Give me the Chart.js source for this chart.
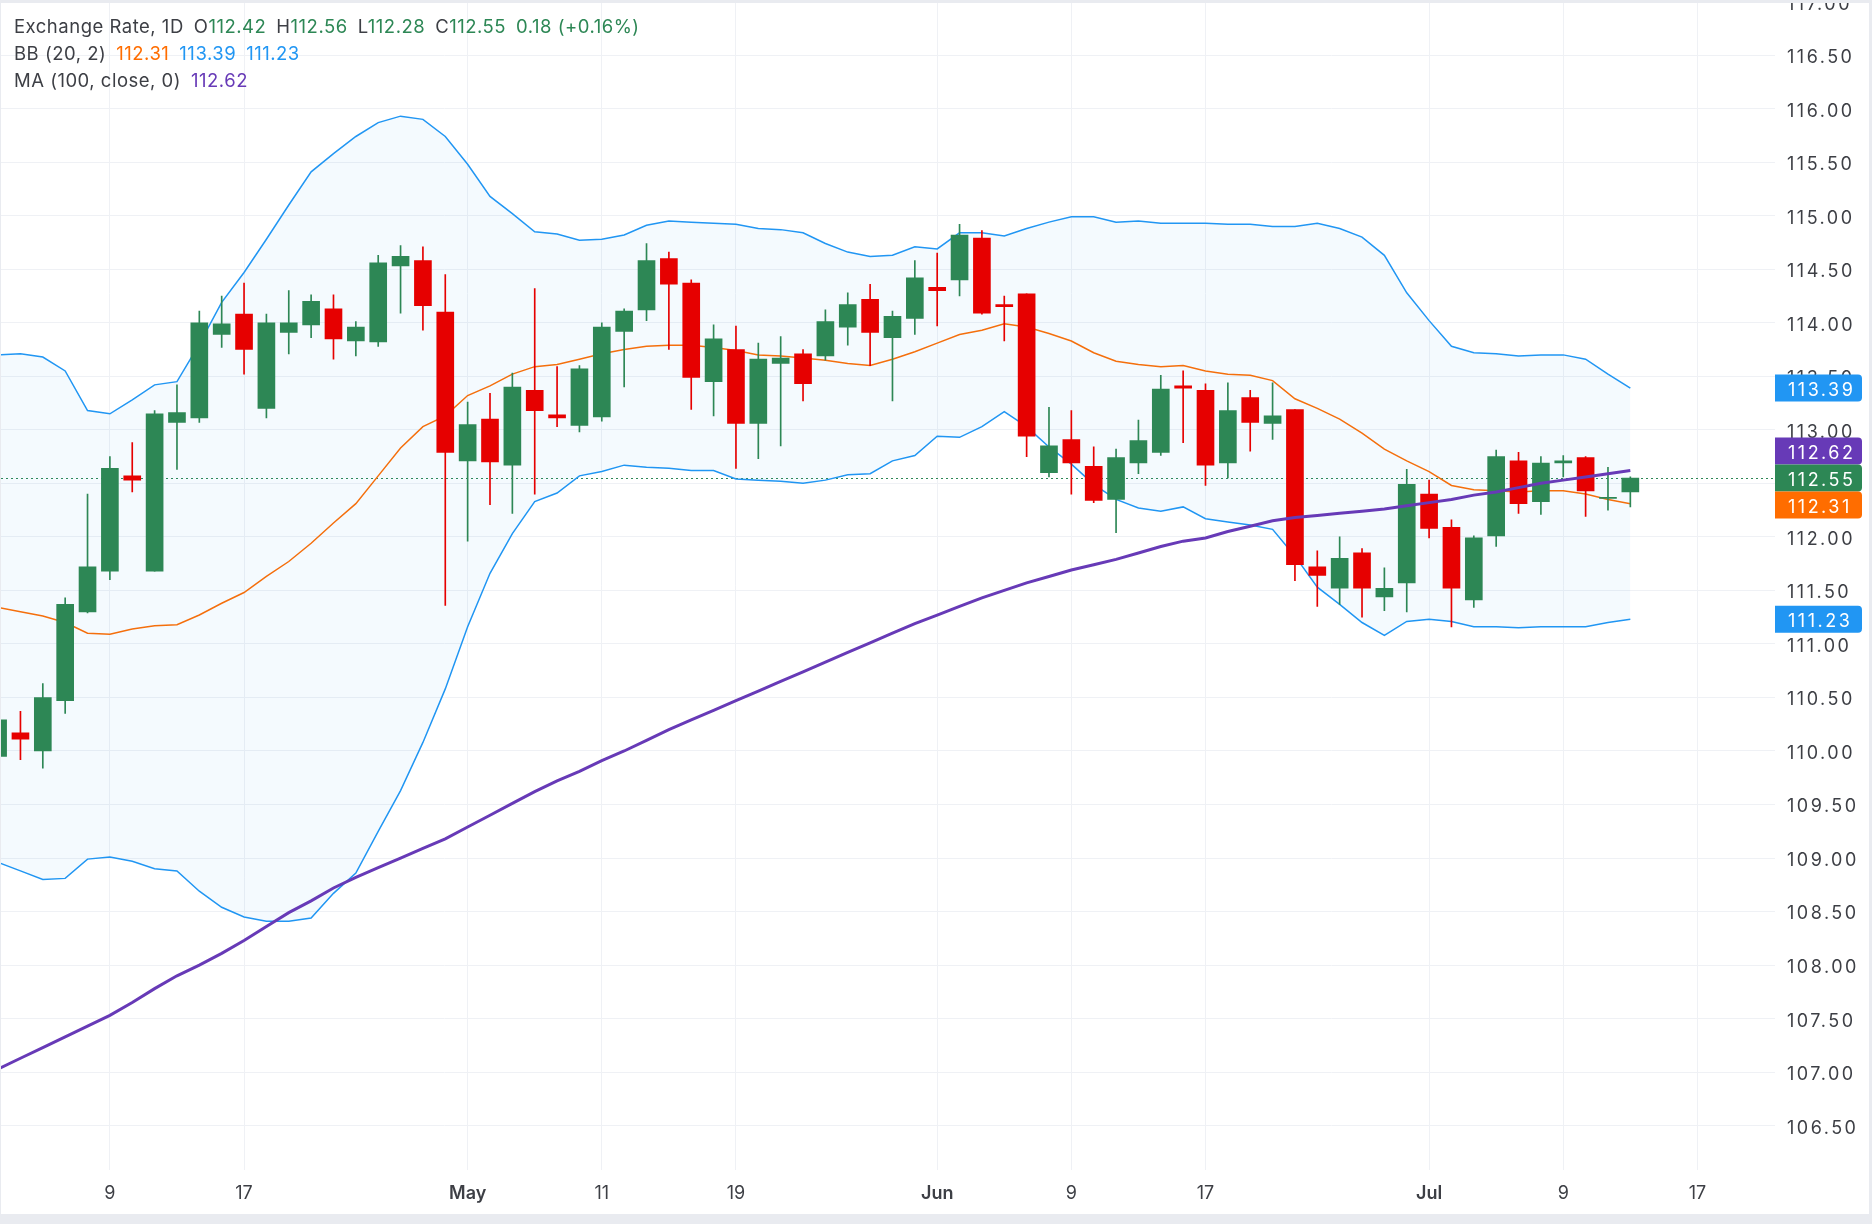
<!DOCTYPE html>
<html>
<head>
<meta charset="utf-8">
<title>Exchange Rate, 1D</title>
<script src="https://cdn.jsdelivr.net/npm/chart.js@4.4.1/dist/chart.umd.min.js"></script>
<style>
  html, body { margin:0; padding:0; background:#ffffff; }
  #wrap { position:relative; width:1872px; height:1224px; overflow:hidden; background:#ffffff; }
  #c { position:absolute; left:0; top:0; }
  .fr { position:absolute; background:#e9ebf0; }
  #legend { position:absolute; left:14px; top:13px; font-family:Inter, 'Noto Sans', sans-serif; font-size:18.5px; letter-spacing:0.5px; line-height:27px; color:#3d3f45; }
  #legend .row { white-space:nowrap; }
  #legend .g { margin-left:10px; }
</style>
</head>
<body>
<div id="wrap">
  <canvas id="c" width="1872" height="1224"></canvas>
  <div id="legend"></div>
  <div class="fr" style="left:0;top:0;width:1872px;height:3px"></div>
  <div class="fr" style="left:0;top:0;width:1px;height:1224px"></div>
  <div class="fr" style="left:1869px;top:0;width:3px;height:1224px"></div>
  <div class="fr" style="left:0;top:1214px;width:1872px;height:10px"></div>
</div>
<script>
// ---------- categories (trading days, 2020) ----------
const days = [
  'Apr 2','Apr 3','Apr 6','Apr 7','Apr 8','Apr 9','Apr 10','Apr 13','Apr 14','Apr 15','Apr 16','Apr 17','Apr 20','Apr 21','Apr 22','Apr 23','Apr 24','Apr 27','Apr 28','Apr 29','Apr 30',
  'May 1','May 4','May 5','May 6','May 7','May 8','May 11','May 12','May 13','May 14','May 15','May 18','May 19','May 20','May 21','May 22','May 25','May 26','May 27','May 28','May 29',
  'Jun 1','Jun 2','Jun 3','Jun 4','Jun 5','Jun 8','Jun 9','Jun 10','Jun 11','Jun 12','Jun 15','Jun 16','Jun 17','Jun 18','Jun 19','Jun 22','Jun 23','Jun 24','Jun 25','Jun 26','Jun 29','Jun 30',
  'Jul 1','Jul 2','Jul 3','Jul 6','Jul 7','Jul 8','Jul 9','Jul 10','Jul 13','Jul 14','Jul 15','Jul 16','Jul 17'
];
const tickDays   = ['Apr 9','Apr 17','May 1','May 11','May 19','Jun 1','Jun 9','Jun 17','Jul 1','Jul 9','Jul 17'];
const tickLabels = ['9','17','May','11','19','Jun','9','17','Jul','9','17'];
const yTicks = [106.5,107,107.5,108,108.5,109,109.5,110,110.5,111,111.5,112,112.5,113,113.5,114,114.5,115,115.5,116,116.5,117];

// ---------- series values ----------
const open = [
  109.95,110.17,110.00,110.47,111.30,111.68,112.57,111.68,113.07,113.11,
  113.89,114.08,113.20,113.91,113.98,114.13,113.83,113.82,114.53,114.58,
  114.10,112.71,113.10,112.67,113.37,113.14,113.04,113.12,113.92,114.12,
  114.60,114.37,113.45,113.75,113.06,113.62,113.71,113.69,113.96,114.22,
  113.86,114.04,114.33,114.40,114.79,114.17,114.27,112.60,112.91,112.66,
  112.35,112.69,112.79,113.41,113.37,112.69,113.30,113.06,113.19,111.72,
  111.52,111.85,111.44,111.57,112.40,112.09,111.41,112.01,112.71,112.33,
  112.69,112.74,112.36,112.42
];
const high = [
  110.35,110.37,110.63,111.43,112.40,112.75,112.88,113.18,113.42,114.11,
  114.25,114.37,114.08,114.30,114.26,114.26,114.01,114.63,114.72,114.71,
  114.45,113.26,113.34,113.53,114.32,113.59,113.60,114.00,114.13,114.74,
  114.66,114.40,113.98,113.97,113.81,113.87,113.75,114.12,114.28,114.36,
  114.11,114.58,114.65,114.92,114.86,114.25,114.27,113.21,113.18,112.84,
  112.82,113.09,113.51,113.55,113.43,113.44,113.37,113.44,113.19,111.87,
  112.00,111.89,111.71,112.63,112.53,112.16,112.01,112.81,112.79,112.75,
  112.76,112.75,112.65,112.56
];
const low = [
  109.90,109.92,109.84,110.35,111.29,111.60,112.42,111.68,112.63,113.07,
  113.77,113.52,113.11,113.71,113.86,113.66,113.69,113.78,114.09,113.93,
  111.36,111.96,112.30,112.22,112.40,113.03,112.98,113.08,113.40,114.02,
  113.75,113.19,113.13,112.64,112.73,112.85,113.27,113.65,113.79,113.60,
  113.27,113.89,113.97,114.25,114.08,113.83,112.75,112.56,112.40,112.32,
  112.04,112.59,112.76,112.88,112.48,112.55,112.80,112.91,111.59,111.35,
  111.37,111.25,111.31,111.30,111.99,111.16,111.34,111.91,112.22,112.21,
  112.56,112.19,112.25,112.28
];
const close = [
  110.29,110.11,110.50,111.37,111.72,112.64,112.53,113.15,113.16,114.00,
  113.99,113.75,114.00,114.00,114.20,113.85,113.96,114.56,114.62,114.16,
  112.79,113.05,112.70,113.40,113.18,113.11,113.57,113.96,114.11,114.58,
  114.36,113.49,113.85,113.06,113.66,113.67,113.43,114.01,114.17,113.91,
  114.06,114.42,114.30,114.82,114.09,114.15,112.94,112.85,112.69,112.34,
  112.74,112.90,113.38,113.39,112.67,113.18,113.07,113.13,111.74,111.64,
  111.80,111.52,111.52,112.49,112.08,111.52,111.99,112.75,112.31,112.69,
  112.71,112.43,112.37,112.55
];
const bbUpper = [
  113.70,113.71,113.68,113.55,113.18,113.15,113.28,113.42,113.45,113.80,
  114.19,114.47,114.78,115.10,115.41,115.58,115.74,115.87,115.93,115.90,
  115.74,115.48,115.18,115.02,114.85,114.83,114.77,114.78,114.82,114.91,
  114.95,114.94,114.93,114.92,114.88,114.87,114.84,114.74,114.66,114.62,
  114.63,114.71,114.69,114.84,114.84,114.81,114.88,114.94,114.99,114.99,
  114.94,114.95,114.93,114.93,114.93,114.92,114.92,114.90,114.90,114.93,
  114.88,114.80,114.63,114.28,114.02,113.78,113.72,113.71,113.69,113.70,
  113.70,113.66,113.52,113.39
];
const bbBasis = [
  111.34,111.30,111.26,111.20,111.10,111.09,111.14,111.17,111.18,111.27,
  111.38,111.48,111.63,111.77,111.94,112.13,112.31,112.57,112.83,113.03,
  113.13,113.32,113.41,113.52,113.59,113.61,113.66,113.71,113.75,113.78,
  113.79,113.79,113.77,113.74,113.70,113.69,113.67,113.65,113.62,113.60,
  113.66,113.73,113.81,113.89,113.93,113.99,113.96,113.90,113.83,113.72,
  113.64,113.61,113.59,113.60,113.55,113.52,113.51,113.46,113.29,113.20,
  113.10,112.97,112.82,112.71,112.61,112.48,112.44,112.43,112.42,112.43,
  112.43,112.40,112.35,112.31
];
const bbLower = [
  108.96,108.88,108.80,108.81,108.99,109.01,108.97,108.90,108.88,108.69,
  108.54,108.45,108.41,108.41,108.44,108.67,108.86,109.25,109.63,110.08,
  110.58,111.16,111.66,112.03,112.33,112.41,112.57,112.61,112.67,112.65,
  112.64,112.62,112.62,112.54,112.53,112.52,112.50,112.53,112.58,112.59,
  112.71,112.76,112.94,112.93,113.03,113.17,113.03,112.84,112.68,112.49,
  112.35,112.27,112.24,112.28,112.17,112.14,112.11,112.07,111.82,111.53,
  111.37,111.20,111.08,111.21,111.23,111.21,111.16,111.16,111.15,111.16,
  111.16,111.16,111.20,111.23
];
const ma100 = [
  107.03,107.13,107.23,107.33,107.43,107.53,107.65,107.78,107.90,108.00,
  108.11,108.23,108.36,108.49,108.60,108.72,108.82,108.91,109.00,109.09,
  109.18,109.29,109.40,109.51,109.62,109.72,109.81,109.91,110.00,110.10,
  110.20,110.29,110.38,110.47,110.56,110.65,110.74,110.83,110.92,111.01,
  111.10,111.19,111.27,111.35,111.43,111.50,111.57,111.63,111.69,111.74,
  111.79,111.85,111.91,111.96,111.99,112.05,112.10,112.15,112.18,112.20,
  112.22,112.24,112.26,112.29,112.32,112.35,112.39,112.42,112.46,112.50,
  112.53,112.56,112.59,112.62
];

// ---------- styles ----------
const GREEN = '#2d8755', RED = '#e60000', BLUE = '#2196F3', ORANGE = '#FF6D00', PURPLE = '#673AB7';
const GRID = '#eff1f5', TXT = '#3d3f45';
const FONT = "Inter, 'Noto Sans', sans-serif";
const AXIS_SPACING = '2.5px';
const last = close.length - 1;
const idx = close.map((_, i) => i);
const candleColor = i => (close[i] >= open[i] ? GREEN : RED);
const pts = arr => idx.map(i => ({ x: i, y: arr[i] }));

// visible window (bar index units / price units)
const xMin = 0.13, xMax = 79.47;
const yMin = 106.086, yMax = 117;

// ---------- legend (real text) ----------
(function () {
  const f = v => v.toFixed(2);
  const chg = close[last] - close[last - 1];
  const pct = chg / close[last - 1] * 100;
  const vc = close[last] >= open[last] ? GREEN : RED;
  const sg = chg >= 0 ? '+' : '';
  document.getElementById('legend').innerHTML =
    `<div class="row"><span>Exchange Rate, 1D</span>` +
    `<span class="g">O<span style="color:${vc}">${f(open[last])}</span></span>` +
    `<span class="g">H<span style="color:${vc}">${f(high[last])}</span></span>` +
    `<span class="g">L<span style="color:${vc}">${f(low[last])}</span></span>` +
    `<span class="g">C<span style="color:${vc}">${f(close[last])}</span></span>` +
    `<span class="g" style="color:${vc}">${chg.toFixed(2)} (${sg}${pct.toFixed(2)}%)</span></div>` +
    `<div class="row"><span>BB (20, 2)</span>` +
    `<span class="g" style="color:${ORANGE}">${f(bbBasis[last])}</span>` +
    `<span class="g" style="color:${BLUE}">${f(bbUpper[last])}</span>` +
    `<span class="g" style="color:${BLUE}">${f(bbLower[last])}</span></div>` +
    `<div class="row"><span>MA (100, close, 0)</span>` +
    `<span class="g" style="color:${PURPLE}">${f(ma100[last])}</span></div>`;
})();

// ---------- plugins ----------
const axisSpacing = {
  id: 'axisSpacing',
  beforeDraw(chart) {
    const s = chart.scales.y;
    if (s && !s._spaced) {
      const orig = s.drawLabels;
      s.drawLabels = function (area) {
        const c = this.ctx;
        c.save();
        if ('letterSpacing' in c) c.letterSpacing = AXIS_SPACING;
        orig.call(this, area);
        c.restore();
      };
      s._spaced = true;
    }
  }
};
const closeLine = {
  id: 'closeLine',
  beforeDatasetsDraw(chart) {
    const { ctx, chartArea: a, scales: { y } } = chart;
    const yy = Math.round(y.getPixelForValue(close[last])) + 0.5;
    ctx.save();
    ctx.strokeStyle = GREEN; ctx.lineWidth = 1; ctx.setLineDash([2, 3]);
    ctx.beginPath(); ctx.moveTo(a.left, yy); ctx.lineTo(a.right, yy); ctx.stroke();
    ctx.restore();
  }
};
const priceBoxes = {
  id: 'priceBoxes',
  afterDraw(chart) {
    const { ctx, chartArea: a, scales: { y } } = chart;
    const h = 27, w = 87;
    const items = [
      { v: bbUpper[last], c: BLUE },
      { v: ma100[last], c: PURPLE },
      { v: close[last], c: candleColor(last), anchor: true },
      { v: bbBasis[last], c: ORANGE },
      { v: bbLower[last], c: BLUE }
    ].map(b => ({ ...b, y: y.getPixelForValue(b.v) }));
    items.sort((p, q) => p.y - q.y);
    const ai = items.findIndex(b => b.anchor);
    for (let k = ai - 1; k >= 0; k--) items[k].y = Math.min(items[k].y, items[k + 1].y - h);
    for (let k = ai + 1; k < items.length; k++) items[k].y = Math.max(items[k].y, items[k - 1].y + h);
    ctx.save();
    if ('letterSpacing' in ctx) ctx.letterSpacing = AXIS_SPACING;
    items.forEach(b => {
      ctx.fillStyle = b.c;
      ctx.beginPath();
      ctx.roundRect(a.right, b.y - h / 2, w, h, [0, 4, 4, 0]);
      ctx.fill();
      ctx.fillStyle = '#ffffff';
      ctx.font = `18px ${FONT}`;
      ctx.textBaseline = 'middle'; ctx.textAlign = 'left';
      ctx.fillText(b.v.toFixed(2), a.right + 13, b.y + 2.5);
    });
    ctx.restore();
  }
};

// ---------- chart ----------
new Chart(document.getElementById('c'), {
  type: 'bar',
  data: {
    datasets: [
      { type: 'line', label: 'BB upper', data: pts(bbUpper), borderColor: BLUE, borderWidth: 1.5,
        pointRadius: 0, tension: 0, fill: '+1', backgroundColor: 'rgba(33,150,243,0.05)', order: 3 },
      { type: 'line', label: 'BB lower', data: pts(bbLower), borderColor: BLUE, borderWidth: 1.5,
        pointRadius: 0, tension: 0, fill: false, order: 3 },
      { type: 'line', label: 'BB basis', data: pts(bbBasis), borderColor: ORANGE, borderWidth: 1.5,
        pointRadius: 0, tension: 0, fill: false, order: 3 },
      { type: 'bar', label: 'wick', data: idx.map(i => ({ x: i, y: [low[i], high[i]] })),
        backgroundColor: idx.map(candleColor), barThickness: 1, grouped: false, order: 2 },
      { type: 'bar', label: 'body', data: idx.map(i => ({ x: i, y: [open[i], close[i]] })),
        backgroundColor: idx.map(candleColor), barThickness: 17, minBarLength: 1, grouped: false, order: 1 },
      { type: 'line', label: 'MA 100', data: pts(ma100), borderColor: PURPLE, borderWidth: 3,
        pointRadius: 0, tension: 0, fill: false, order: 0 }
    ]
  },
  options: {
    responsive: false, animation: false, devicePixelRatio: 1,
    layout: { padding: { top: 1.6, left: 1, right: 0, bottom: 0 } },
    plugins: { legend: { display: false }, tooltip: { enabled: false }, filler: { propagate: false } },
    scales: {
      x: {
        type: 'linear', position: 'bottom', min: xMin, max: xMax, offset: false,
        grid: { color: GRID, drawTicks: false, offset: false }, border: { display: false },
        afterBuildTicks: s => { s.ticks = tickDays.map(d => ({ value: days.indexOf(d) })); },
        ticks: {
          autoSkip: false, maxRotation: 0, padding: 13, color: TXT,
          callback: v => tickLabels[tickDays.indexOf(days[v])],
          font: c => {
            const lab = c.tick ? tickLabels[tickDays.indexOf(days[c.tick.value])] : '';
            return { family: FONT, size: 18, weight: /[A-Za-z]/.test(lab || '') ? '600' : '400' };
          }
        },
        afterFit: s => { s.height = 54; s.paddingLeft = 0; s.paddingRight = 0; }
      },
      y: {
        type: 'linear', position: 'right', min: yMin, max: yMax,
        grid: { color: GRID, drawTicks: false }, border: { display: false },
        afterBuildTicks: s => { s.ticks = yTicks.map(v => ({ value: v })); },
        ticks: { autoSkip: false, padding: 12, labelOffset: 2.5, color: TXT, font: { family: FONT, size: 18 },
                 callback: v => Number(v).toFixed(2) },
        afterFit: s => { s.width = 97; s.paddingTop = 0; s.paddingBottom = 0; }
      }
    }
  },
  plugins: [axisSpacing, closeLine, priceBoxes]
});
</script>
</body>
</html>
